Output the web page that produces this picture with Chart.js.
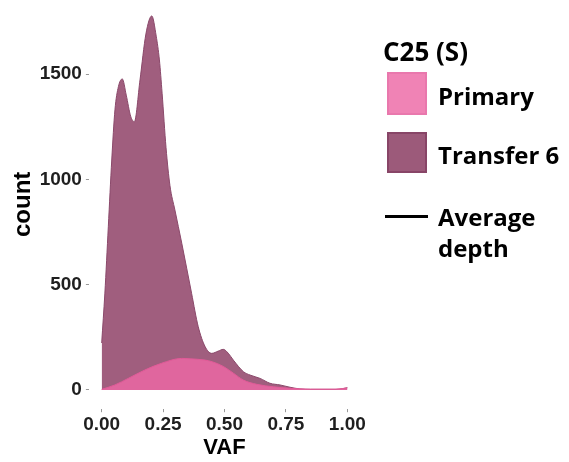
<!DOCTYPE html>
<html>
<head>
<meta charset="utf-8">
<script src="https://cdn.jsdelivr.net/npm/chart.js@4.4.0/dist/chart.umd.min.js"></script>
<style>
  body { margin: 0; background: #fff; }
  #wrap { position: relative; width: 569px; height: 462px; overflow: hidden; }
  #chart { position: absolute; left: 0; top: 0; }
  .lg { position: absolute; font-family: 'Open Sans', sans-serif; font-weight: 700; font-size: 24px; line-height: 24px; color: #000; white-space: nowrap; }
  .sw { position: absolute; box-sizing: border-box; }
</style>
</head>
<body>
<div id="wrap">
  <canvas id="chart" width="569" height="462"></canvas>
  <div class="lg" style="left:383px;top:38px;font-size:26px;line-height:26px;">C25 (S)</div>
  <div class="sw" style="left:387px;top:72px;width:40px;height:43px;background:#f083b5;border:2px solid #e978ad;"></div>
  <div class="lg" style="left:438px;top:84px;">Primary</div>
  <div class="sw" style="left:387px;top:132px;width:40px;height:41px;background:#9c5a7a;border:2px solid #884567;"></div>
  <div class="lg" style="left:438px;top:143px;">Transfer 6</div>
  <div class="sw" style="left:385px;top:215px;width:43px;height:3px;background:#000;"></div>
  <div class="lg" style="left:438px;top:205px;">Average</div>
  <div class="lg" style="left:438px;top:236px;">depth</div>
</div>
<script>
// values (VAF, count)
const transferX = [0, 0.013, 0.027, 0.041, 0.054, 0.068, 0.084, 0.1, 0.118, 0.133, 0.156, 0.18, 0.204, 0.222, 0.235, 0.246, 0.262, 0.278, 0.298, 0.326, 0.366, 0.393, 0.421, 0.448, 0.475, 0.495, 0.515, 0.536, 0.577, 0.604, 0.645, 0.685, 0.726, 0.767, 0.807, 0.85, 0.957, 0.98, 1.0];
const transferY = [223, 460, 775, 1092, 1330, 1440, 1477, 1400, 1300, 1274, 1472, 1690, 1776, 1680, 1567, 1409, 1150, 970, 855, 697, 459, 301, 206, 174, 185, 193, 175, 142, 87, 71, 55, 32, 24, 13, 5, 3, 3, 6, 11];
const primaryX = [0, 0.054, 0.108, 0.176, 0.244, 0.326, 0.36, 0.421, 0.45, 0.495, 0.536, 0.577, 0.631, 0.7, 0.767, 0.85, 0.95, 1.0];
const primaryY = [3, 24, 55, 95, 127, 150, 148, 142, 134, 112, 80, 47, 27, 15, 8, 4, 4, 10];
const xTicks = [0, 0.25, 0.5, 0.75, 1];
const yTicks = [0, 500, 1000, 1500];

const pts = (xs, ys) => xs.map((x, i) => ({ x, y: ys[i] }));
const fam = "'Liberation Sans', Arial, sans-serif";
const tickFont = { family: fam, size: 19, weight: 'bold' };
// fixed axis box sizes so the plot area sits where the picture has it
const noPad = s => { s.paddingTop = 0; s.paddingBottom = 0; s.paddingLeft = 0; s.paddingRight = 0; };

new Chart(document.getElementById('chart'), {
  type: 'line',
  data: {
    datasets: [
      { label: 'Primary', data: pts(primaryX, primaryY), fill: 'origin',
        backgroundColor: 'rgb(224,102,158)', borderColor: 'rgb(226,90,152)', borderWidth: 1,
        pointRadius: 0, cubicInterpolationMode: 'monotone' },
      { label: 'Transfer 6', data: pts(transferX, transferY), fill: 'origin',
        backgroundColor: 'rgb(160,94,126)', borderColor: 'rgb(138,72,106)', borderWidth: 1,
        pointRadius: 0, cubicInterpolationMode: 'monotone' }
    ]
  },
  options: {
    responsive: false, animation: false,
    layout: { padding: { left: 0, top: 0, right: 209.4, bottom: 0 } },
    plugins: { legend: { display: false }, tooltip: { enabled: false } },
    scales: {
      x: {
        type: 'linear', min: -0.05, max: 1.05,
        afterBuildTicks: s => { s.ticks = xTicks.map(v => ({ value: v })); },
        afterFit: s => { s.height = 53.3; noPad(s); },
        ticks: { font: tickFont, color: '#1f1f1f', padding: 1, maxRotation: 0,
                 callback: v => v.toFixed(2) },
        grid: { drawOnChartArea: false, drawTicks: true, tickLength: 3.5, color: '#999' },
        border: { display: false },
        title: { display: true, text: 'VAF', font: { family: fam, size: 22, weight: 'bold' }, color: '#000', padding: { top: 0, bottom: 1 } }
      },
      y: {
        min: -88.8, max: 1851.7,
        afterBuildTicks: s => { s.ticks = yTicks.map(v => ({ value: v })); },
        afterFit: s => { s.width = 89.4; noPad(s); },
        ticks: { font: tickFont, color: '#1f1f1f', padding: 4, callback: v => String(v) },
        grid: { drawOnChartArea: false, drawTicks: true, tickLength: 3.5, color: '#999' },
        border: { display: false },
        title: { display: true, text: 'count', font: { family: fam, size: 24, weight: 'bold' }, color: '#000', padding: { top: 9, bottom: 0 } }
      }
    }
  }
});
</script>
</body>
</html>
